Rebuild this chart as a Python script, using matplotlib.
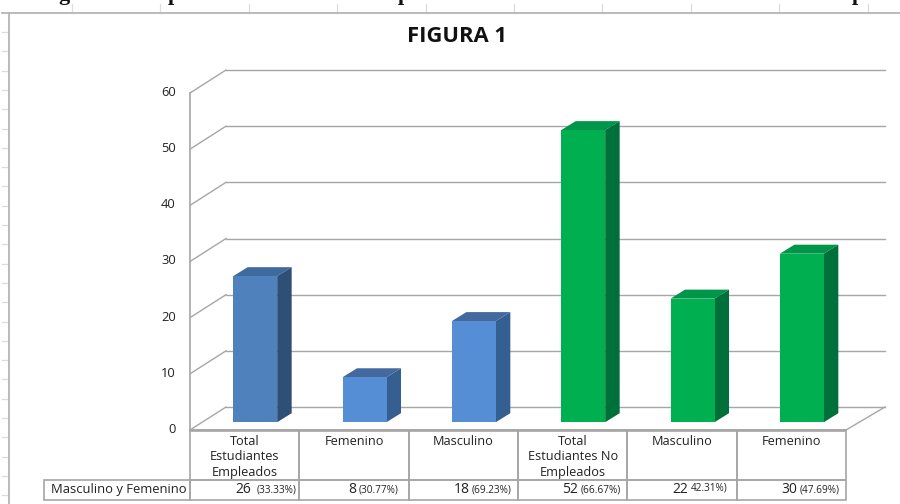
import matplotlib
matplotlib.use("Agg")
import matplotlib.pyplot as plt
from matplotlib.patches import Polygon, Rectangle

categories = ["Total\nEstudiantes\nEmpleados", "Femenino", "Masculino",
              "Total\nEstudiantes No\nEmpleados", "Masculino", "Femenino"]
values = [26, 8, 18, 52, 22, 30]
percents = ["(33.33%)", "(30.77%)", "(69.23%)", "(66.67%)", "42.31%)", "(47.69%)"]
row_label = "Masculino y Femenino"
yticks = [0, 10, 20, 30, 40, 50, 60]
title = "FIGURA 1"
heading_tails = ["g", "p", "p", "p"]
front = ["#4f81bd", "#558ed5", "#558ed5", "#00b050", "#00b050", "#00b050"]
top = ["#3f6a9e", "#44699f", "#44699f", "#00964a", "#00964a", "#00964a"]
side = ["#2f4f77", "#365f91", "#365f91", "#00703a", "#00703a", "#00703a"]

W, H = 900, 504
plt.rcParams["font.family"] = ["Open Sans", "DejaVu Sans"]
fig = plt.figure(figsize=(W / 100, H / 100), dpi=100)
# pixel overlay for chrome
bg = fig.add_axes([0, 0, 1, 1])
bg.set_xlim(0, W); bg.set_ylim(H, 0); bg.axis("off")
# plot axes: x = category index, y = value; front plane of the 3D box
L, R, Y0, Y60 = 190, 846, 430, 93
ax = fig.add_axes([L / W, 1 - Y0 / H, (R - L) / W, (Y0 - Y60) / H])
ax.set_xlim(0, len(values)); ax.set_ylim(0, 60); ax.axis("off")
ux = (R - L) / len(values); uy = (Y0 - Y60) / 60
DX, DY = 36 / ux, 23 / uy    # wall depth, in data units
n = len(values)

# spreadsheet remains
x = 72.0
while x < W:
    bg.plot([x, x], [4, 13], color="#dcdcdc", lw=0.9)
    x += 88.4
y = 32.0
while y < H:
    bg.plot([2, 8], [y, y], color="#dcdcdc", lw=0.9)
    y += 19.3
bg.plot([9, 9], [H, 13], color="#b5b5b5", lw=1.3)
bg.plot([2, W], [13, 13], color="#b5b5b5", lw=1.3)
for gx, ch in zip([58, 168, 398, 852], heading_tails):
    bg.text(gx, 0, ch, ha="left", va="baseline", fontsize=16, fontweight="bold",
            family="Liberation Serif", color="#111111", clip_on=True)

# walls and gridlines
c = "#a6a6a6"
for t in yticks:
    ax.plot([0, DX], [t, t + DY], color=c, lw=1.0, clip_on=False)
    ax.plot([DX, n + DX + 3 / ux], [t + DY, t + DY], color=c, lw=1.0, clip_on=False)
    ax.text(-0.13, t + 0.1, str(t), ha="right", va="center", fontsize=9.3, color="#222222")
ax.plot([0, 0], [0, 60], color=c, lw=1.2, clip_on=False)
ax.plot([n, n + DX + 3 / ux], [0, DY], color=c, lw=1.0, clip_on=False)
ax.plot([0, n], [0, 0], color=c, lw=1.4, clip_on=False)

# bars
bw = 44 / ux
ox, oy = 10.5 / ux, 7.8 / uy
dx, dy = 14.5 / ux, 9 / uy
for i, v in enumerate(values):
    x0 = i + (1 - bw) / 2 + ox; x1 = x0 + bw
    y0 = oy; y1 = v + oy
    ax.add_patch(Polygon([(x0, y1), (x1, y1), (x1 + dx, y1 + dy), (x0 + dx, y1 + dy)], fc=top[i], ec="none", zorder=3))
    ax.add_patch(Polygon([(x1, y0), (x1 + dx, y0 + dy), (x1 + dx, y1 + dy), (x1, y1)], fc=side[i], ec="none", zorder=3))
    ax.add_patch(Rectangle((x0, y0), bw, v, fc=front[i], ec="none", zorder=4))

# table under the axis
def cell(x0, y0, x1, y1):
    bg.add_patch(Rectangle((x0, y0), x1 - x0, y1 - y0, fc="none", ec="#a6a6a6", lw=1.2))

xs = [L + k * ux for k in range(n + 1)]
pct_right = [-3, -10, -6, -6, -9, -6]
val_gap = [45, 42, 42, 43, 40, 43]
for i, name in enumerate(categories):
    cell(xs[i], 431, xs[i + 1], 480)
    bg.text((xs[i] + xs[i + 1]) / 2, 435, name, ha="center", va="top", fontsize=9.2,
            color="#222222", linespacing=1.25)
    cell(xs[i], 480, xs[i + 1], 500)
    rgt = xs[i + 1] + pct_right[i]
    bg.text(rgt - val_gap[i], 489.5, str(values[i]), ha="right", va="center", fontsize=10, color="#222222")
    bg.text(rgt, 489.5 - (1.5 if i == 4 else 0), percents[i], ha="right", va="center", fontsize=7.2, color="#222222")
cell(44, 480, L, 500)
bg.text(51, 489.5, row_label, ha="left", va="center", fontsize=9.4, color="#222222")
fig.text(457 / W, 1 - 36 / H, title, ha="center", va="center", fontsize=15.8, fontweight="bold", color="#111111")
fig.savefig("out.png", dpi=100)
